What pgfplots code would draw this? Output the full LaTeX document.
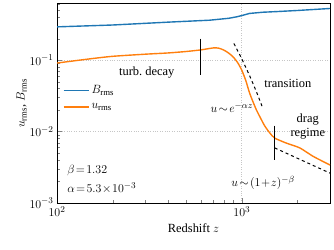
\documentclass[border=0pt]{standalone}
\usepackage{pgfplots}
\pgfplotsset{compat=1.18}
\usepackage{fontspec}
\setmainfont{Liberation Serif}
\definecolor{mblue}{HTML}{1F77B4}
\definecolor{morange}{HTML}{FF7F0E}
\begin{document}
\begin{tikzpicture}
\begin{axis}[
  scale only axis, width=273bp, height=199.5bp,
  xmode=log, ymode=log,
  xmin=100, xmax=3000, ymin=1e-3, ymax=0.62,
  font=\fontsize{12.5}{15}\selectfont,
  tick align=inside, axis line style={line width=0.8pt},
  xtick pos=left, ytick pos=left,
  xtick={100,1000}, xticklabels={$10^{2}$,$10^{3}$},
  minor xtick={200,300,400,500,600,700,800,900,2000,3000},
  ytick={0.001,0.01,0.1}, yticklabels={$10^{-3}$,$10^{-2}$,$10^{-1}$},
  minor ytick={0.002,0.003,0.004,0.005,0.006,0.007,0.008,0.009,0.02,0.03,0.04,0.05,0.06,0.07,0.08,0.09,0.2,0.3,0.4,0.5,0.6},
  major tick length=5bp, minor tick length=3bp,
  xmajorgrids, ymajorgrids, major grid style={gray!45, dotted, line width=0.7pt},
  xlabel={Redshift $z$},
  ylabel={$u_{\mathrm{rms}}$, $B_{\mathrm{rms}}$},
  ylabel style={yshift=-4bp},
  legend style={draw=none, fill=none, at={(rel axis cs:0.01,0.61)}, anchor=north west, row sep=4.4bp, font=\fontsize{12.5}{15}\selectfont},
  legend cell align=left,
  legend image code/.code={\draw[#1] (0bp,0bp) -- (25bp,0bp);},
]
\addplot[mblue, line width=1.4pt] coordinates {
(100,0.292) (200,0.31) (400,0.34) (670,0.362) (850,0.385) (940,0.404)
(1000,0.42) (1100,0.45) (1300,0.468) (1550,0.478) (2000,0.495) (3000,0.528)};
\addlegendentry{$B_{\mathrm{rms}}$}
\addplot[morange, line width=1.4pt, smooth, tension=0.4, forget plot] coordinates {
(100,0.091) (150,0.104) (200,0.113) (300,0.121) (400,0.126) (500,0.132)
(600,0.139) (700,0.148) (750,0.147) (800,0.138) (850,0.125) (900,0.11)
(950,0.092) (1000,0.072) (1050,0.052) (1100,0.035) (1150,0.026) (1200,0.020)
(1270,0.015) (1330,0.012) (1415,0.0096) (1507,0.0081) (1740,0.0069)
(2060,0.0059) (2430,0.0045) (3000,0.0034)};
\addlegendimage{morange, line width=1.6pt}
\addlegendentry{$u_{\mathrm{rms}}$}
\addplot[black, dashed, line width=1pt, forget plot] coordinates {
(906,0.171) (1000,0.104) (1100,0.0612) (1200,0.036) (1303,0.0208)};
\addplot[black, dashed, line width=1pt, forget plot] coordinates {
(1507,0.0059) (3000,0.00262)};
\addplot[black, line width=1.3pt, forget plot] coordinates {(600,0.2) (600,0.062)};
\addplot[black, line width=1.3pt, forget plot] coordinates {(1507,0.0121) (1507,0.00405)};
\node at (axis cs:306,0.068) {turb.\ decay};
\node at (axis cs:1774,0.0477) {transition};
\node at (axis cs:883,0.0213) {$u\!\sim\! e^{-\alpha z}$};
\node[align=center, inner sep=0pt] at (axis cs:2275,0.0118) {drag\\[-1bp]regime};
\node at (axis cs:1303,0.0019) {$u\!\sim\!(1\!+\!z)^{-\beta}$};
\node[anchor=west, inner sep=0pt] at (rel axis cs:0.037,0.165) {$\beta\!=\!1.32$};
\node[anchor=west, inner sep=0pt] at (rel axis cs:0.037,0.075) {$\alpha\!=\!5.3\!\times\!10^{-3}$};
\end{axis}
\pgfresetboundingbox
\path[use as bounding box] (current axis.south west) ++(-57bp,-47bp) rectangle ([shift={(4bp,3.5bp)}]current axis.north east);
\end{tikzpicture}
\end{document}
